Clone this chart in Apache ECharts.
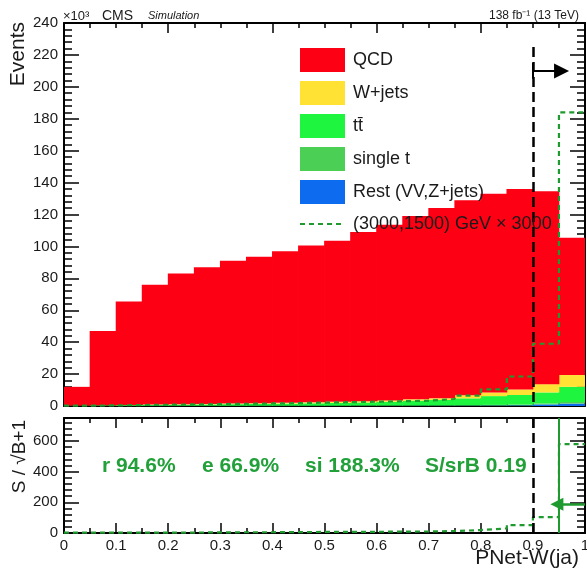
<!DOCTYPE html>
<html>
<head>
<meta charset="utf-8">
<script src="https://cdn.jsdelivr.net/npm/echarts@6/dist/echarts.min.js"></script>
<style>
  html, body { margin: 0; padding: 0; background: #fff; }
  #chart { width: 587px; height: 571px; }
</style>
</head>
<body>
<div id="chart"></div>
<script>
  // bin edges of PNet-W(ja), 20 bins
  var binEdges = [0, 0.05, 0.1, 0.15, 0.2, 0.25, 0.3, 0.35, 0.4, 0.45, 0.5,
                  0.55, 0.6, 0.65, 0.7, 0.75, 0.8, 0.85, 0.9, 0.95, 1];

  // events, x10^3
  var qcd    = [11.8, 46.5, 64.8, 75.1, 81.9, 85.7, 89.5, 91.8, 95.0, 98.2,
                100.9, 106.0, 110.0, 114.8, 119.2, 122.3, 124.5, 125.6, 120.8, 86.1];
  var wjets  = [0.05, 0.1, 0.15, 0.2, 0.25, 0.3, 0.35, 0.4, 0.5, 0.6,
                0.7, 0.8, 0.9, 0.9, 1.0, 1.9, 2.3, 3.5, 5.2, 7.4];
  var ttbar  = [0.1, 0.3, 0.45, 0.6, 0.7, 0.85, 1.0, 1.1, 1.3, 1.5,
                1.7, 1.9, 2.3, 3.0, 3.4, 4.3, 5.5, 6.0, 6.9, 9.5];
  var singleT = [0.03, 0.06, 0.07, 0.07, 0.1, 0.1, 0.1, 0.15, 0.15, 0.15,
                 0.15, 0.2, 0.2, 0.2, 0.25, 0.3, 0.4, 0.5, 0.6, 1.0];
  var rest   = [0.02, 0.04, 0.03, 0.03, 0.05, 0.05, 0.05, 0.05, 0.05, 0.05,
                0.05, 0.1, 0.1, 0.1, 0.15, 0.2, 0.3, 0.4, 1.0, 1.5];
  // signal (3000,1500) GeV x 3000
  var signal = [0.2, 0.4, 0.6, 0.8, 1.0, 1.2, 1.4, 1.6, 1.8, 2.1,
                2.4, 2.7, 3.0, 3.3, 4.4, 6.5, 10.4, 18.5, 39, 184];
  // S / sqrt(B+1)
  var sOverSqrtB = [2, 2, 2, 3, 3, 4, 5, 5, 6, 7,
                    7, 8, 9, 10, 13, 19, 30, 52, 103, 580];

  var mainTicksY = [0, 240, 20];
  var ratioTicksY = [0, 750, 200];

  var FONT = "'Liberation Sans', Arial, Helvetica, sans-serif";
  var SIG_GREEN = '#1f9a2e';
  var SIG_NAME = '(3000,1500) GeV \u00d7 3000';

  var chart = echarts.init(document.getElementById('chart'), null, {renderer: 'canvas'});

  var binNames = binEdges.slice(0, 20).map(function (e) { return String(e); });
  function steps(vals) {
    return binEdges.map(function (e, i) { return [e, vals[Math.min(i, vals.length - 1)]]; });
  }

  function frameX(grid, pos, labels, interval, split) {
    return {
      type: 'value', gridIndex: grid, position: pos, min: 0, max: 1, interval: interval,
      axisLine: {show: true, onZero: false, lineStyle: {color: '#000', width: 2}},
      axisTick: {show: true, inside: true, length: 10, lineStyle: {color: '#000', width: 1.5}},
      minorTick: {show: true, splitNumber: split, length: 5, lineStyle: {color: '#000', width: 1.5}},
      axisLabel: {show: labels, color: '#1a1a1a', fontSize: 15, fontFamily: FONT, margin: 5,
        formatter: function (v) { return String(Math.round(v * 10) / 10); }},
      splitLine: {show: false}
    };
  }
  function frameY(grid, pos, labels, t) {
    return {
      type: 'value', gridIndex: grid, position: pos, min: t[0], max: t[1], interval: t[2],
      axisLine: {show: true, onZero: false, lineStyle: {color: '#000', width: 2}},
      axisTick: {show: true, inside: true, length: 15, lineStyle: {color: '#000', width: 1.5}},
      minorTick: {show: true, splitNumber: 5, length: 8, lineStyle: {color: '#000', width: 1.5}},
      axisLabel: {show: labels, color: '#1a1a1a', fontSize: 15, fontFamily: FONT, margin: 6,
        showMaxLabel: t[1] % t[2] === 0},
      splitLine: {show: false}
    };
  }

  function bars(name, data, color) {
    return {
      name: name, type: 'bar', xAxisIndex: 0, yAxisIndex: 0, stack: 'bkg',
      data: data, barWidth: 26.8,
      itemStyle: {color: color}, emphasis: {disabled: true}, silent: true
    };
  }

  function label(x, y, text, font, extra) {
    return Object.assign({type: 'text', x: x, y: y, z: 100,
      style: Object.assign({text: text, font: font + ' ' + FONT, fill: '#1a1a1a', verticalAlign: 'middle'},
        extra && extra.style)}, extra && extra.el);
  }

  var mainGrid = {left: 64, top: 23, width: 521, height: 383, outerBoundsMode: 'none'};
  var ratioGrid = {left: 64, top: 418, width: 521, height: 115, outerBoundsMode: 'none'};
  var ratioText = {style: {fill: '#22a03a'}};

  var option = {
    animation: false,
    textStyle: {fontFamily: FONT},
    grid: [mainGrid, Object.assign({}, mainGrid), ratioGrid, Object.assign({}, ratioGrid)],
    xAxis: [
      {type: 'category', gridIndex: 0, position: 'top', data: binNames, boundaryGap: true, show: false},
      frameX(0, 'bottom', false, 0.2, 4),
      frameX(1, 'top', false, 0.2, 4),
      frameX(2, 'bottom', true, 0.1, 2),
      frameX(3, 'top', false, 0.1, 2)
    ],
    yAxis: [
      frameY(0, 'left', true, mainTicksY),
      frameY(1, 'right', false, mainTicksY),
      frameY(2, 'left', true, ratioTicksY),
      frameY(3, 'right', false, ratioTicksY)
    ],
    legend: {
      orient: 'vertical', left: 300, top: 48, padding: 0,
      itemWidth: 45, itemHeight: 24, itemGap: 9,
      selectedMode: false,
      textStyle: {fontSize: 18, color: '#1a1a1a', fontFamily: FONT, padding: [0, 0, 0, 3]},
      data: [
        {name: 'QCD', icon: 'rect'},
        {name: 'W+jets', icon: 'rect'},
        {name: 'tt\u0304', icon: 'rect'},
        {name: 'single t', icon: 'rect'},
        {name: 'Rest (VV,Z+jets)', icon: 'rect'}
      ]
    },
    series: [
      bars('Rest (VV,Z+jets)', rest, '#0d6bf0'),
      bars('single t', singleT, '#4ccf55'),
      bars('tt\u0304', ttbar, '#1ef53f'),
      bars('W+jets', wjets, '#ffe234'),
      bars('QCD', qcd, '#fe0014'),
      {
        name: SIG_NAME, type: 'line', xAxisIndex: 1, yAxisIndex: 0,
        data: steps(signal), step: 'end', symbol: 'none', silent: true,
        lineStyle: {color: SIG_GREEN, width: 2.2, type: [5, 4]},
        markLine: {
          silent: true, label: {show: false}, symbol: 'none',
          data: [
            [{coord: [0.9, 225], lineStyle: {color: '#000', width: 2.5, type: [10, 5]}},
             {coord: [0.9, 0]}],
            [{coord: [0.9, 210], symbol: 'none', lineStyle: {color: '#000', width: 2, type: 'solid'}},
             {coord: [0.955, 210], symbol: 'triangle', symbolSize: 15}],
            [{coord: [0.9, 205], lineStyle: {color: '#000', width: 2, type: 'solid'}},
             {coord: [0.9, 215]}]
          ]
        }
      },
      {
        name: 'ratio', type: 'line', xAxisIndex: 3, yAxisIndex: 2,
        data: steps(sOverSqrtB), step: 'end', symbol: 'none', silent: true,
        lineStyle: {color: SIG_GREEN, width: 2.2, type: [5, 4]},
        markLine: {
          silent: true, label: {show: false}, symbol: 'none',
          data: [
            {xAxis: 0.9, lineStyle: {color: '#000', width: 2.5, type: [10, 5]}},
            {xAxis: 0.95, lineStyle: {color: SIG_GREEN, width: 2, type: 'solid'}},
            [{coord: [0.946, 188], symbol: 'triangle', symbolSize: 13,
              lineStyle: {color: SIG_GREEN, width: 2.5, type: 'solid'}},
             {coord: [1, 188], symbol: 'none'}]
          ]
        }
      }
    ],
    graphic: [
      // legend entry for the dashed signal line
      {type: 'line', z: 100, shape: {x1: 300, y1: 224, x2: 345, y2: 224},
       style: {stroke: SIG_GREEN, lineWidth: 2.2, lineDash: [5, 4]}},
      label(353, 224, SIG_NAME, '18px'),
      label(63, 16, '\u00d710\u00b3', '13px'),
      label(102, 16, 'CMS', '14px'),
      label(148, 16, 'Simulation', 'italic 11px'),
      label(579, 16, '138 fb\u207b\u00b9 (13 TeV)', '12px', {style: {align: 'right'}}),
      label(18, 22, 'Events', '21px', {style: {align: 'right'}, el: {rotation: Math.PI / 2}}),
      label(20, 420, 'S / \u221aB+1', '19px', {style: {align: 'right'}, el: {rotation: Math.PI / 2}}),
      label(579, 558, 'PNet-W(ja)', '21px', {style: {align: 'right'}}),
      label(102, 466, 'r 94.6%', 'bold 21px', ratioText),
      label(202, 466, 'e 66.9%', 'bold 21px', ratioText),
      label(305, 466, 'si 188.3%', 'bold 21px', ratioText),
      label(425, 466, 'S/srB 0.19', 'bold 21px', ratioText)
    ]
  };

  chart.setOption(option);
</script>
</body>
</html>
